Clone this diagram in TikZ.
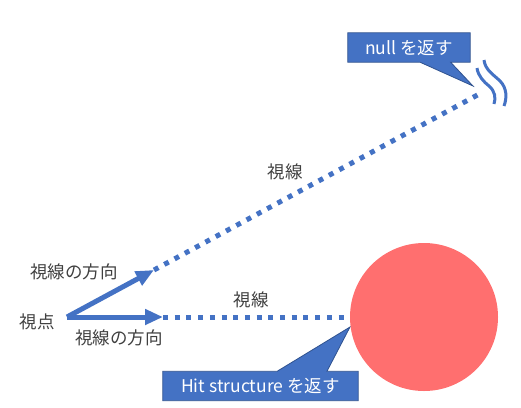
\documentclass[tikz,border=0pt]{standalone}
\usepackage{fontspec}
\setmainfont{Noto Sans CJK JP}
\usepackage{tikz}
\usetikzlibrary{arrows.meta,calc,backgrounds}

\definecolor{rayblue}{HTML}{4472C4}
\definecolor{boxedge}{HTML}{2F528F}
\definecolor{ballred}{HTML}{FF6F6F}
\definecolor{labelgray}{HTML}{404040}

\begin{document}
\begin{tikzpicture}[x=1pt,y=-1pt,
    label text/.style={text=labelgray,font=\fontsize{17.5}{20}\selectfont},
    ray arrow/.style={draw=rayblue,line width=5pt,-{Triangle[length=18pt,width=15pt]}},
    ray dots/.style={draw=rayblue,line width=5pt,dash pattern=on 5pt off 6.7pt},
    wave/.style={draw=rayblue,line width=3pt},
    callout text/.style={text=white,font=\fontsize{17.5}{20}\selectfont,
                         inner xsep=0pt,minimum height=29pt},
    callout shape/.style={fill=rayblue,draw=boxedge,line width=0.8pt}]

  \useasboundingbox (0,0) rectangle (521,407);

  % the eye and the two rays
  \coordinate (eye) at (67,317);
  \coordinate (uptip) at (154,270);
  \coordinate (flattip) at (163,317);
  \coordinate (farend) at (483,92);
  \node[circle,fill=ballred,minimum size=148pt,inner sep=0pt] (ball) at (424,317) {};

  \draw[ray arrow] (eye) -- (uptip);
  \draw[ray arrow] (eye) -- (flattip);
  \draw[ray dots] (uptip) -- (farend);
  \draw[ray dots] (flattip) -- (ball.west);

  % the ray that goes on forever
  \draw[wave] (477,68) .. controls (478,76) and (484,82) .. (489,86)
              .. controls (495,91) and (496,98) .. (494,104);
  \draw[wave] (484,60) .. controls (485,70) and (494,75) .. (500,81)
              .. controls (507,88) and (507,98) .. (504,106);

  % labels
  \node[label text] (eyelabel) at (37,322) {視点};
  \node[label text] (updir) at (74,272) {視線の方向};
  \node[label text] (flatdir) at (119,338) {視線の方向};
  \node[label text] (upray) at (285,172) {視線};
  \node[label text] (flatray) at (251,300) {視線};

  % callouts
  \coordinate (nulltip) at (473,86);
  \coordinate (hittip) at (350,327);
  \node[callout text,minimum width=122pt] (nullbox) at (409,47.5) {null を返す};
  \node[callout text,minimum width=195pt] (hitbox) at (260.5,386) {Hit structure を返す};

  \begin{scope}[on background layer]
    \path[callout shape] (nullbox.north west) -- (nullbox.north east) -- (nullbox.south east)
      -- ($(nullbox.south west)!0.84!(nullbox.south east)$) -- (nulltip)
      -- ($(nullbox.south west)!0.59!(nullbox.south east)$) -- (nullbox.south west) -- cycle;
    \path[callout shape] (hitbox.south west) -- (hitbox.north west)
      -- ($(hitbox.north west)!0.585!(hitbox.north east)$) -- (hittip)
      -- ($(hitbox.north west)!0.84!(hitbox.north east)$) -- (hitbox.north east)
      -- (hitbox.south east) -- cycle;
  \end{scope}
\end{tikzpicture}
\end{document}
